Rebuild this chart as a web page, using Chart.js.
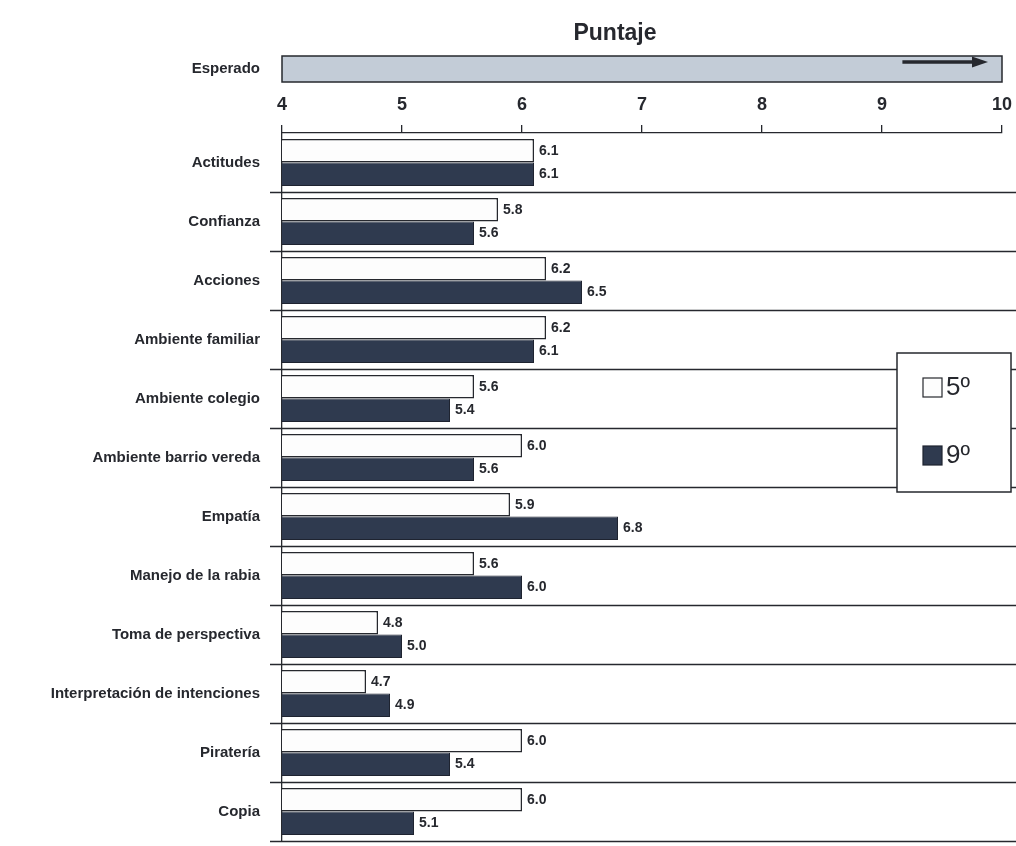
<!DOCTYPE html>
<html>
<head>
<meta charset="utf-8">
<script src="https://cdn.jsdelivr.net/npm/chart.js@4.4.1/dist/chart.umd.min.js"></script>
<style>
  html, body { margin: 0; padding: 0; background: #ffffff; }
  #wrap { width: 1016px; height: 846px; position: relative; }
</style>
</head>
<body>
<div id="wrap"><canvas id="chart" width="1016" height="846"></canvas></div>
<script>
// datos
const categories = ['Actitudes', 'Confianza', 'Acciones', 'Ambiente familiar', 'Ambiente colegio',
  'Ambiente barrio vereda', 'Empatía', 'Manejo de la rabia', 'Toma de perspectiva',
  'Interpretación de intenciones', 'Piratería', 'Copia'];
const grado5 = [6.1, 5.8, 6.2, 6.2, 5.6, 6.0, 5.9, 5.6, 4.8, 4.7, 6.0, 6.0];
const grado9 = [6.1, 5.6, 6.5, 6.1, 5.4, 5.6, 6.8, 6.0, 5.0, 4.9, 5.4, 5.1];
const seriesNames = ['5º', '9º'];
const xMin = 4;
const xMax = 10;

const ink = '#26282e';
const dark = '#2f3a4f';
const labelFont = "'Liberation Sans', Arial, sans-serif";
const narrowFont = "'Liberation Sans Narrow', 'Liberation Sans', Arial, sans-serif";

// filas, barra "Esperado", titulo, etiquetas y leyenda
const extras = {
  id: 'extras',
  beforeDatasetsDraw(chart) {
    const { ctx, chartArea } = chart;
    const y = chart.scales.y;
    const pitch = (chartArea.bottom - chartArea.top) / categories.length;
    ctx.save();
    ctx.strokeStyle = ink;
    ctx.lineWidth = 1.3;
    for (let i = 1; i <= categories.length; i++) {
      const py = Math.round(y.getPixelForValue(i - 1) + pitch / 2) + 0.5;
      ctx.beginPath();
      ctx.moveTo(chartArea.left - 12, py);
      ctx.lineTo(chart.width, py);
      ctx.stroke();
    }
    ctx.restore();
  },
  afterDraw(chart) {
    const { ctx } = chart;
    const x = chart.scales.x;
    const left = x.getPixelForValue(xMin);
    const right = x.getPixelForValue(xMax);
    ctx.save();

    // titulo
    ctx.fillStyle = ink;
    ctx.font = "bold 23px " + labelFont;
    ctx.textAlign = 'center';
    ctx.textBaseline = 'middle';
    ctx.fillText('Puntaje', 615, 34);

    // barra esperado
    ctx.fillStyle = '#c3ccd7';
    ctx.fillRect(left, 56, right - left, 26);
    ctx.strokeStyle = ink;
    ctx.lineWidth = 1.5;
    ctx.strokeRect(left, 56, right - left, 26);
    ctx.beginPath();
    ctx.lineWidth = 3.5;
    ctx.moveTo(x.getPixelForValue(9.17), 62);
    ctx.lineTo(right - 28, 62);
    ctx.stroke();
    ctx.beginPath();
    ctx.fillStyle = ink;
    ctx.moveTo(right - 14, 62);
    ctx.lineTo(right - 30, 56.5);
    ctx.lineTo(right - 30, 67.5);
    ctx.closePath();
    ctx.fill();
    ctx.font = "bold 15px " + labelFont;
    ctx.textAlign = 'right';
    ctx.fillText('Esperado', 260, 69);

    // etiquetas de valor
    ctx.font = "bold 14px " + narrowFont;
    ctx.textAlign = 'left';
    chart.data.datasets.forEach((ds, di) => {
      chart.getDatasetMeta(di).data.forEach((bar, i) => {
        ctx.fillText(ds.data[i].toFixed(1), bar.x + 5, bar.y);
      });
    });

    // leyenda
    const lx = 897, ly = 353, lw = 114, lh = 139;
    ctx.fillStyle = '#ffffff';
    ctx.fillRect(lx, ly, lw, lh);
    ctx.lineWidth = 1.5;
    ctx.strokeStyle = ink;
    ctx.strokeRect(lx, ly, lw, lh);
    chart.data.datasets.forEach((ds, di) => {
      const cy = ly + 35 + di * 68;
      ctx.fillStyle = ds.backgroundColor;
      ctx.fillRect(lx + 26, cy - 10, 19, 19);
      ctx.lineWidth = 1.2;
      ctx.strokeStyle = ds.borderColor;
      ctx.strokeRect(lx + 26, cy - 10, 19, 19);
      ctx.fillStyle = ink;
      ctx.font = "26px " + narrowFont;
      ctx.textAlign = 'left';
      ctx.fillText(ds.label, lx + 49, cy);
    });
    ctx.restore();
  }
};

new Chart(document.getElementById('chart'), {
  type: 'bar',
  data: {
    labels: categories,
    datasets: [
      { label: seriesNames[0], data: grado5, backgroundColor: '#fdfdfd', borderColor: ink, borderWidth: 1.5 },
      { label: seriesNames[1], data: grado9, backgroundColor: dark, borderColor: '#1e2330', borderWidth: 1 }
    ]
  },
  options: {
    indexAxis: 'y',
    responsive: false,
    animation: false,
    categoryPercentage: 0.8,
    barPercentage: 1.0,
    layout: { padding: { top: 0, right: 14, bottom: 5, left: 0 } },
    plugins: {
      legend: { display: false },
      tooltip: { enabled: false }
    },
    scales: {
      x: {
        position: 'top',
        min: xMin,
        max: xMax,
        afterFit(scale) {
          scale.height = 133;
          scale.paddingLeft = 0;
          scale.paddingRight = 0;
        },
        ticks: {
          stepSize: 1,
          color: ink,
          padding: 9,
          font: { family: narrowFont, size: 18, weight: 'bold' }
        },
        grid: { drawOnChartArea: false, tickLength: 8, color: ink, lineWidth: 1.3 },
        border: { display: true, color: ink, width: 1.3 }
      },
      y: {
        afterFit(scale) {
          scale.width = 282;
          scale.paddingTop = 0;
          scale.paddingBottom = 0;
        },
        ticks: {
          color: ink,
          padding: 14,
          font: { family: labelFont, size: 15, weight: 'bold' }
        },
        grid: { display: false },
        border: { display: true, color: ink, width: 1.3 }
      }
    }
  },
  plugins: [extras]
});
</script>
</body>
</html>
